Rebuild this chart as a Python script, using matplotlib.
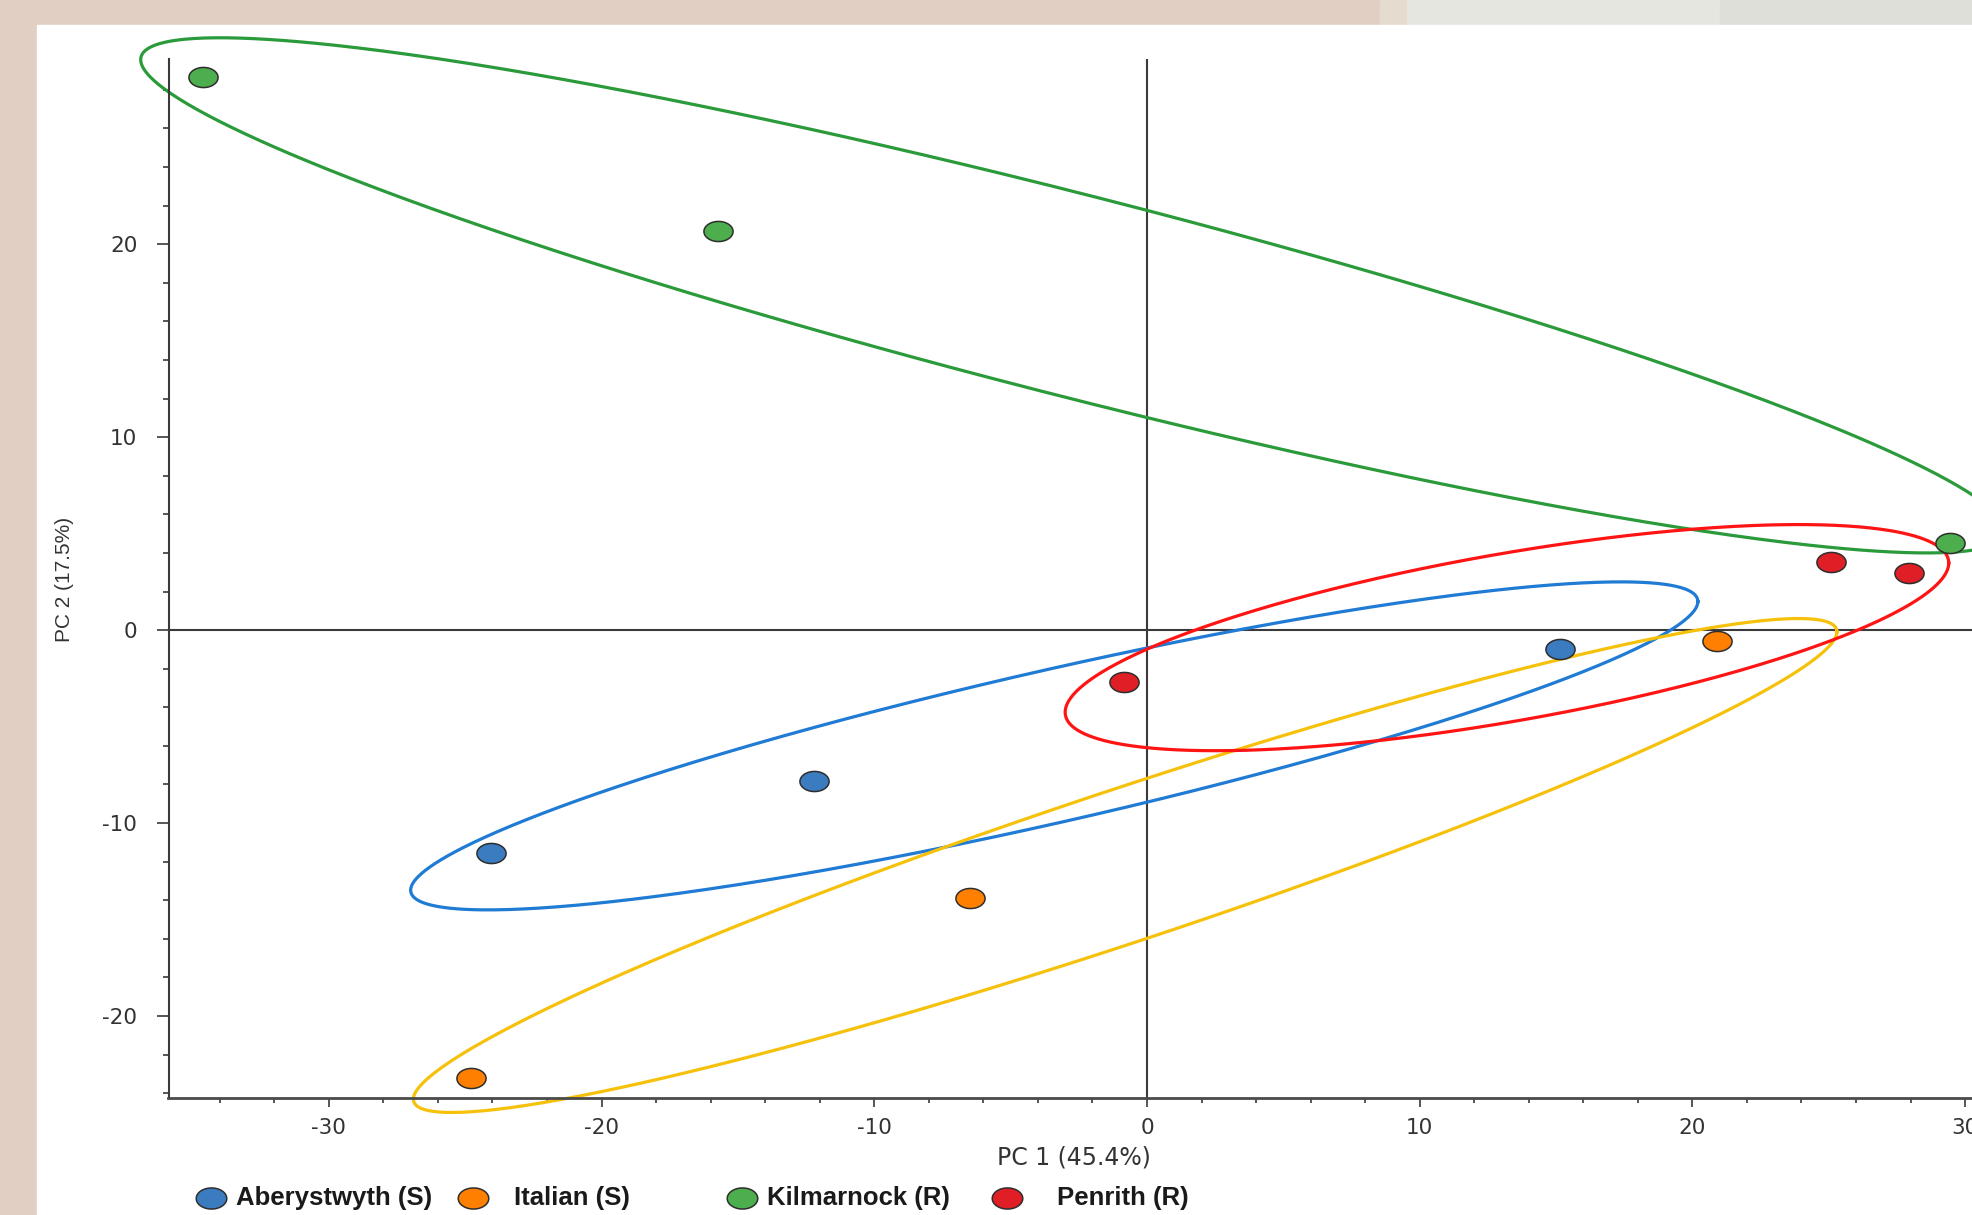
import numpy as np
import matplotlib
matplotlib.use("Agg")
import matplotlib.pyplot as plt
from matplotlib.path import Path
from matplotlib.patches import Rectangle
from matplotlib.ticker import MultipleLocator, FixedLocator

plt.rcParams['axes.unicode_minus'] = False

# ---------------- data ----------------
groups = ["Aberystwyth (S)", "Italian (S)", "Kilmarnock (R)", "Penrith (R)"]

pc1_aberystwyth = [-24.06, -12.21, 15.13]
pc2_aberystwyth = [-11.55, -7.82, -0.98]
pc1_italian = [-24.77, -6.49, 20.92]
pc2_italian = [-23.2, -13.9, -0.55]
pc1_kilmarnock = [-34.6, -15.73, 29.45]
pc2_kilmarnock = [28.65, 20.7, 4.5]
pc1_penrith = [-0.84, 25.1, 27.95]
pc2_penrith = [-2.69, 3.52, 2.95]

# confidence ellipses: centre, half-extent in x / y, correlation (tilt)
ell_cx = [-3.4, -0.8, -2.7, 13.2]
ell_cy = [-6.0, -12.2, 17.35, -0.39]
ell_sx = [23.6, 26.1, 34.2, 16.2]
ell_sy = [8.5, 12.8, 13.35, 5.86]
ell_rho = [0.88, 0.946, -0.915, 0.66]

x_ticks = [-30, -20, -10, 0, 10, 20, 30]
y_ticks = [-20, -10, 0, 10, 20]
x_label = "PC 1 (45.4%)"
y_label = "PC 2 (17.5%)"

# ---------------- styles ----------------
marker_fill = ['#3b7bbf', '#ff8000', '#4cae4c', '#e01e26']
ellipse_col = ['#1f7bd4', '#f6c10a', '#2b9a3a', '#ff1414']
edge_col = '#2e2e2e'
axis_col = '#3a3a3a'
text_col = '#333333'

t = np.linspace(0, 2 * np.pi, 64)
ell_marker = Path(np.c_[np.cos(t), 0.69 * np.sin(t)], closed=True)

W, H = 1972, 1215
fig = plt.figure(figsize=(W / 100, H / 100), dpi=100)

# background (screenshot frame)
bg = fig.add_axes([0, 0, 1, 1])
bg.set_xlim(0, W)
bg.set_ylim(H, 0)
bg.axis('off')
bg.add_patch(Rectangle((0, 0), W, H, color='#e2cfc4', zorder=0))
bg.add_patch(Rectangle((1380, 0), 40, 25, color='#e5dbcf', zorder=0.5))
bg.add_patch(Rectangle((1407, 0), W - 1407, 25, color='#e6e6e0', zorder=0.6))
bg.add_patch(Rectangle((1720, 0), W - 1720, 25, color='#dfdfd9', zorder=0.7))
bg.add_patch(Rectangle((37, 25), W - 37, H - 25, color='white', zorder=1))

# main plot
x_left, x_right = -35.88, 31.0
y_bot, y_top = -24.25, 29.6
px_per_x = 27.27
ax_left_px, ax_right_px = 168.5, 1147 + px_per_x * x_right
ax_top_px, ax_bot_px = 59, 1098
ax = fig.add_axes([ax_left_px / W, (H - ax_bot_px) / H,
                   (ax_right_px - ax_left_px) / W, (ax_bot_px - ax_top_px) / H])
ax.set_facecolor('none')
ax.set_xlim(x_left, x_right)
ax.set_ylim(y_bot, y_top)

for s in ['top', 'right']:
    ax.spines[s].set_visible(False)
ax.spines['left'].set_color(axis_col)
ax.spines['left'].set_linewidth(1.5)
ax.spines['bottom'].set_color('#4a4a4a')
ax.spines['bottom'].set_linewidth(2.0)

ax.axvline(0, color=axis_col, lw=1.5, zorder=1)
ax.axhline(0, color=axis_col, lw=1.5, zorder=1)

ax.xaxis.set_major_locator(FixedLocator(x_ticks))
ax.yaxis.set_major_locator(FixedLocator(y_ticks))
ax.xaxis.set_minor_locator(MultipleLocator(2))
ax.yaxis.set_minor_locator(MultipleLocator(2))
ax.set_xticklabels([str(v) for v in x_ticks])
ax.set_yticklabels([str(v) for v in y_ticks])
ax.tick_params(axis='x', which='major', direction='out', length=6.5, width=1.2,
               color=axis_col, labelsize=15.5, labelcolor=text_col, pad=8)
ax.tick_params(axis='x', which='minor', direction='out', length=3.6, width=1.2,
               color=axis_col)
ax.tick_params(axis='y', which='major', direction='out', length=8.5, width=1.2,
               color=axis_col, labelsize=15.5, labelcolor=text_col, pad=14)
ax.tick_params(axis='y', which='minor', direction='out', length=4.3, width=1.2,
               color=axis_col)

# ellipses
tt = np.linspace(0, 2 * np.pi, 600)
for i in range(4):
    ex = ell_cx[i] + ell_sx[i] * np.cos(tt)
    ey = ell_cy[i] + ell_sy[i] * (ell_rho[i] * np.cos(tt)
                                  + np.sqrt(1 - ell_rho[i] ** 2) * np.sin(tt))
    ax.plot(ex, ey, color=ellipse_col[i], lw=2.3, clip_on=False, zorder=2)

# points
xs = [pc1_aberystwyth, pc1_italian, pc1_kilmarnock, pc1_penrith]
ys = [pc2_aberystwyth, pc2_italian, pc2_kilmarnock, pc2_penrith]
for i in range(4):
    ax.plot(xs[i], ys[i], linestyle='none', marker=ell_marker, ms=21,
            mfc=marker_fill[i], mec=edge_col, mew=1.1, clip_on=False, zorder=3)

# axis labels
fig.text(1074 / W, 1 - 1157 / H, x_label, ha='center', va='center',
         fontsize=17, color=text_col)
fig.text(65 / W, 1 - 579 / H, y_label, ha='center', va='center', rotation=90,
         fontsize=15, color=text_col, family=['Liberation Sans', 'DejaVu Sans'])

# legend (bottom row)
leg_marker_x = [211, 473, 742, 1007]
leg_text_x = [236, 514, 767, 1057]
leg_y = 1198
for i in range(4):
    bg.plot([leg_marker_x[i]], [leg_y], linestyle='none', marker=ell_marker, ms=22,
            mfc=marker_fill[i], mec=edge_col, mew=1.1, zorder=5)
    bg.text(leg_text_x[i], leg_y, groups[i], ha='left', va='center',
            fontsize=18.5, fontweight='bold', color='#1a1a1a',
            family=['Liberation Sans', 'DejaVu Sans'], zorder=5)

fig.savefig('out.png', dpi=100)
